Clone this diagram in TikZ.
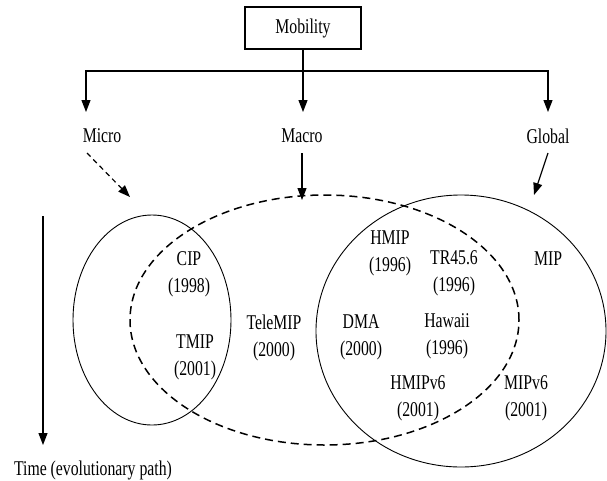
\documentclass[tikz,border=0pt]{standalone}
\usepackage{fontspec}
\setmainfont[FakeStretch=0.75]{Liberation Serif}
\usetikzlibrary{arrows.meta,shapes.geometric}

\begin{document}
\begin{tikzpicture}[x=1pt,y=-1pt,
  every node/.style={font=\fontsize{21}{23}\selectfont, inner sep=0pt},
  link/.style={line width=1.2pt},
  arr/.style={line width=1.2pt, -{Triangle[length=12pt,width=9pt]}},
  darr/.style={line width=1.2pt, dash pattern=on 5pt off 4pt, -{Triangle[length=12pt,width=9pt]}},
  ring/.style={draw, ellipse, line width=0.9pt},
  dring/.style={draw, ellipse, line width=1.5pt, dash pattern=on 8pt off 5pt},
  lbl/.style={align=center, font=\fontsize{21}{27}\selectfont}]
\useasboundingbox (0,0) rectangle (607,480);

% mobility classes
\node[draw, line width=1.2pt, minimum width=116pt, minimum height=42pt] (mob) at (303,28) {Mobility};
\coordinate (split) at (303,71);
\coordinate (tmicro) at (86,112);
\coordinate (tmacro) at (303,112);
\coordinate (tglobal) at (548,112);
\draw[link] (mob.south) -- (split);
\draw[arr] (split) -| (tmicro);
\draw[arr] (split) -- (tmacro);
\draw[arr] (split) -| (tglobal);

\node (micro) at (102,136) {Micro};
\node (macro) at (302,136) {Macro};
\node (global) at (548,136) {Global};

% scope regions
\node[ring, minimum width=158pt, minimum height=210pt] (microset) at (152,320) {};
\node[dring, minimum width=389pt, minimum height=250pt] (macroset) at (324.5,320) {};
\node[ring, minimum width=290pt, minimum height=272pt] (globalset) at (461,331) {};

% pointers from classes to regions
\coordinate (m1) at (87,153);
\coordinate (m2) at (130,197);
\coordinate (a1) at (302,153);
\coordinate (a2) at (302,200);
\coordinate (g1) at (548,153);
\coordinate (g2) at (534,195);
\draw[darr] (m1) -- (m2);
\draw[arr] (a1) -- (a2);
\draw[arr] (g1) -- (g2);

% time axis
\coordinate (t1) at (43,216);
\coordinate (t2) at (43,445);
\draw[arr] (t1) -- (t2);
\node (time) at (93,470) {Time (evolutionary path)};

% protocols
\node[lbl] (cip) at (189,274) {CIP\\(1998)};
\node[lbl] (tmip) at (195,357) {TMIP\\(2001)};
\node[lbl] (telemip) at (274,338) {TeleMIP\\(2000)};
\node[lbl] (hmip) at (390,253) {HMIP\\(1996)};
\node[lbl] (tr) at (454,273) {TR45.6\\(1996)};
\node (mip) at (548,259) {MIP};
\node[lbl] (dma) at (361,337) {DMA\\(2000)};
\node[lbl] (hawaii) at (447,336) {Hawaii\\(1996)};
\node[lbl] (hmipv6) at (418,398) {HMIPv6\\(2001)};
\node[lbl] (mipv6) at (526,398) {MIPv6\\(2001)};
\end{tikzpicture}
\end{document}
